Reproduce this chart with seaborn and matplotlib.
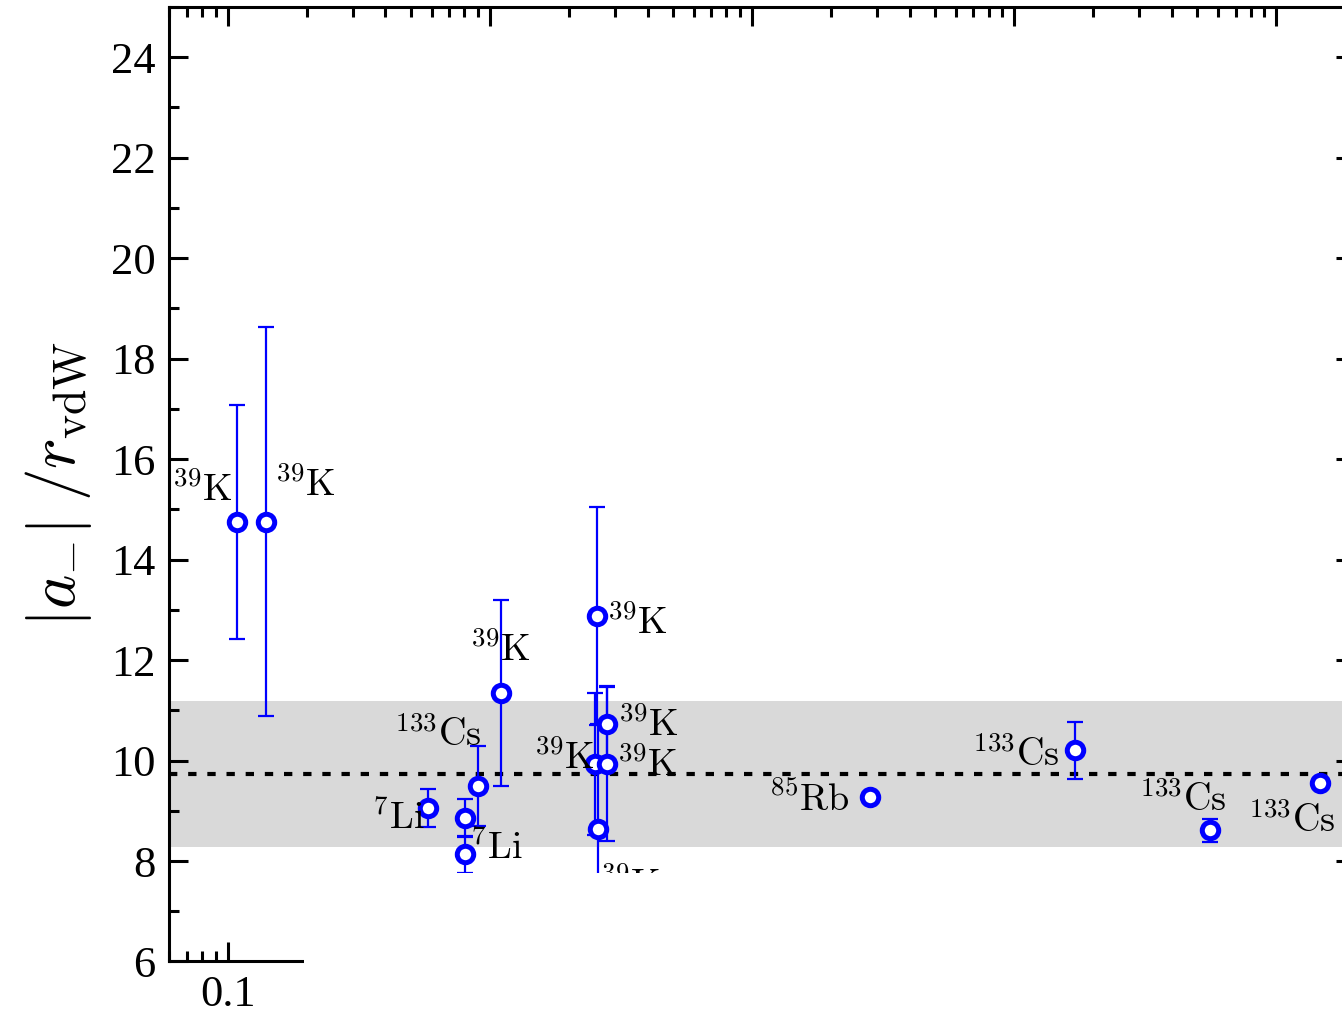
import matplotlib
matplotlib.use("Agg")
import matplotlib.pyplot as plt
import matplotlib.ticker as mticker
from matplotlib.patches import Rectangle
import numpy as np
import pandas as pd
import seaborn as sns

# Three-body parameter measurements: x position, |a_-|/r_vdW and its uncertainty
x_vals = [0.109, 0.140, 0.580, 0.803, 0.803, 0.900, 1.10,
          2.57, 2.80, 2.52, 2.80, 2.58, 28.2, 171.0, 560.0, 1470.0]
y_vals = [14.75, 14.75, 9.05, 8.85, 8.13, 9.49, 11.34,
          12.87, 10.72, 9.93, 9.93, 8.63, 9.27, 10.20, 8.61, 9.55]
y_err = [2.33, 3.87, 0.38, 0.38, 0.36, 0.80, 1.85,
         2.17, 0.76, 1.41, 1.54, 2.09, 0.08, 0.57, 0.23, 0.10]
labels = [r"$^{39}\mathrm{K}$", r"$^{39}\mathrm{K}$", r"$^{7}\mathrm{Li}$", "",
          r"$^{7}\mathrm{Li}$", r"$^{133}\mathrm{Cs}$", r"$^{39}\mathrm{K}$",
          r"$^{39}\mathrm{K}$", r"$^{39}\mathrm{K}$", r"$^{39}\mathrm{K}$",
          r"$^{39}\mathrm{K}$", r"$^{39}\mathrm{K}$", r"$^{85}\mathrm{Rb}$",
          r"$^{133}\mathrm{Cs}$", r"$^{133}\mathrm{Cs}$", r"$^{133}\mathrm{Cs}$"]

# Label placement (offset in pixels from the point, horizontal alignment)
label_dx = [-5, 9, -3, 0, 5, 4, 0, 10, 11, 0, 10, 2, -20, -15, 16, 16]
label_dy = [21, 26, -21, 0, -5, 40, 32, -18, -12, -5, -12, -67, -14, -16, 19, -49]
label_ha = ["right", "left", "right", "left", "left", "right", "center", "left",
            "left", "right", "left", "left", "right", "right", "right", "right"]

# Universal value and its spread
band_mean = 9.73
band_half = 1.45

df = pd.DataFrame({"x": x_vals, "y": y_vals, "err": y_err})

sns.set_theme(style="white")
plt.rcParams["font.family"] = ["Liberation Serif", "DejaVu Serif"]
plt.rcParams["mathtext.fontset"] = "cm"

fig = plt.figure(figsize=(13.42, 10.22), dpi=100)
ax = fig.add_axes([0.1263, 0.0592, 0.8834, 0.9340])

ax.set_xscale("log")
ax.set_xlim(0.06, 2000)
ax.set_ylim(6, 25)

ax.axhspan(band_mean - band_half, band_mean + band_half, color="#d9d9d9", lw=0, zorder=0)
ax.axhline(band_mean, color="black", lw=3.0, dashes=(2.0, 2.6), zorder=1)

ax.errorbar(df["x"], df["y"], yerr=df["err"], fmt="none", ecolor="#0000ff",
            elinewidth=1.6, capsize=6.1, capthick=1.6, zorder=2)
sns.scatterplot(data=df, x="x", y="y", ax=ax, marker="o", s=140,
                facecolor="white", edgecolor="#0000ff", linewidth=3.6, zorder=3,
                legend=False)

for xi, yi, lab, dx, dy, ha in zip(x_vals, y_vals, labels, label_dx, label_dy, label_ha):
    if lab:
        ax.annotate(lab, (xi, yi), xytext=(dx, dy), textcoords="offset pixels",
                    ha=ha, va="baseline", fontsize=27.5, color="black", zorder=4)

ax.set_xlabel("")
ax.set_ylabel(r"$|a_{-}|\;/r_{\mathrm{vdW}}$", fontsize=47, labelpad=12,
              color="black")

ax.yaxis.set_major_locator(mticker.MultipleLocator(2))
ax.yaxis.set_minor_locator(mticker.MultipleLocator(1))
ax.xaxis.set_major_locator(mticker.LogLocator(base=10))
ax.xaxis.set_minor_locator(mticker.LogLocator(base=10, subs=np.arange(2, 10)))
ax.xaxis.set_minor_formatter(mticker.NullFormatter())
ax.xaxis.set_major_formatter(mticker.FuncFormatter(lambda v, p: f"{v:g}"))

ax.tick_params(which="both", direction="in", top=True, right=True,
               bottom=True, left=True, width=2.2, labelsize=32, pad=10,
               colors="black", labelcolor="black")
ax.tick_params(which="major", length=14)
ax.tick_params(which="minor", length=7)
for s in ax.spines.values():
    s.set_linewidth(2.2)
    s.set_color("black")

# blank out the lower right region of the canvas
fig.patches.append(Rectangle((304 / 1342, 0), 1.0, 1 - 873 / 1022,
                             transform=fig.transFigure, facecolor="white",
                             edgecolor="none", zorder=10))

fig.savefig("out.png", dpi=100)
